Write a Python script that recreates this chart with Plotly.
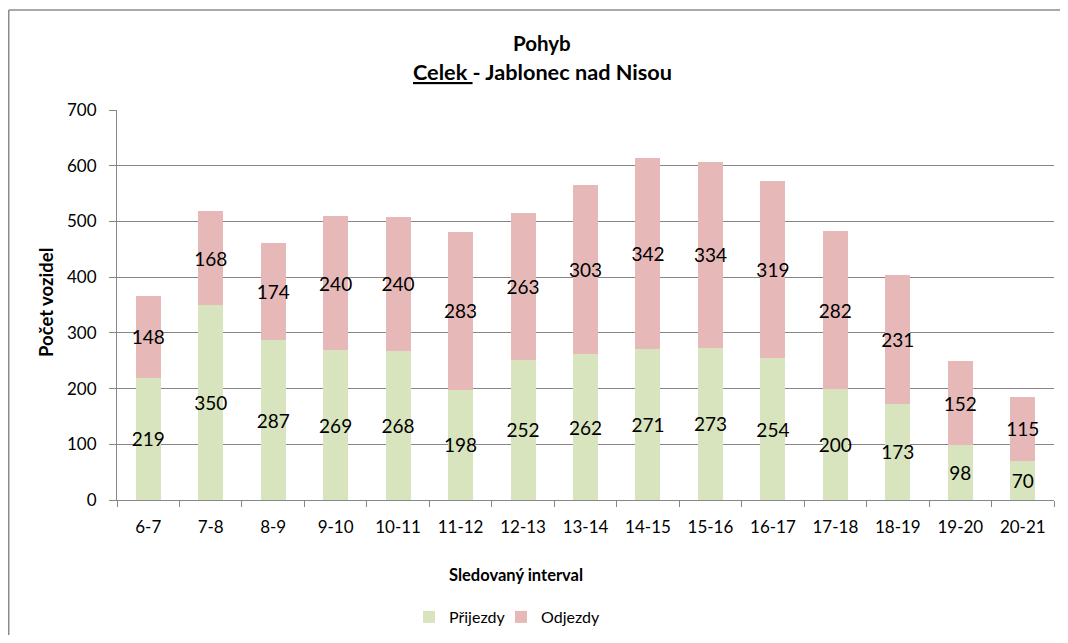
import plotly.graph_objects as go

categories = ["6-7", "7-8", "8-9", "9-10", "10-11", "11-12", "12-13", "13-14",
              "14-15", "15-16", "16-17", "17-18", "18-19", "19-20", "20-21"]
prijezdy = [219, 350, 287, 269, 268, 198, 252, 262, 271, 273, 254, 200, 173, 98, 70]
odjezdy = [148, 168, 174, 240, 240, 283, 263, 303, 342, 334, 319, 282, 231, 152, 115]

FONT = "Lato"
GRID = "#878787"
BORDER = "#8c8c8c"

# page offset (body margin) compensation
OFF = 8
W, H = 1068 - 2 * OFF, 643 - 2 * OFF
PX0, PX1, PY0, PY1 = 117, 1054, 110, 500  # plot area in page pixels
L, R, T, B = PX0 - OFF, W - (PX1 - OFF), PY0 - OFF, H - (PY1 - OFF)
pw = PX1 - PX0
ph = PY1 - PY0


def px_x(x):
    return (x - PX0) / pw


def px_y(y):
    return (PY1 - y) / ph


fig = go.Figure()
for name, vals, col, lg in [("Přijezdy", prijezdy, "#D7E4BD", "legend"),
                            ("Odjezdy", odjezdy, "#E6B9B8", "legend2")]:
    fig.add_trace(go.Bar(
        x=categories, y=vals, name=name, legend=lg, showlegend=True,
        marker=dict(color=col, line=dict(width=0)),
        text=vals, textposition="inside", insidetextanchor="middle",
        constraintext="none", cliponaxis=False,
        textfont=dict(family=FONT, size=19, color="black"), textangle=0,
    ))

leg_common = dict(
    orientation="h", xanchor="left",
    y=px_y(617), yanchor="middle",
    font=dict(family=FONT, size=16),
    itemwidth=30, bgcolor="rgba(0,0,0,0)", visible=True,
)

fig.update_layout(
    width=W, height=H,
    showlegend=True,
    barmode="stack", bargap=0.6,
    plot_bgcolor="white", paper_bgcolor="white",
    margin=dict(l=L, r=R, t=T, b=B, autoexpand=False),
    font=dict(family=FONT, size=17, color="black"),
    uniformtext=dict(minsize=10, mode="show"),
    xaxis=dict(
        type="category",
        showline=True, linecolor=GRID, linewidth=1,
        ticks="outside", tickson="boundaries", tickcolor=GRID, ticklen=6,
        ticklabelstandoff=12,
        showgrid=False,
        tickfont=dict(family=FONT, size=17),
    ),
    yaxis=dict(
        range=[0, 700], dtick=100,
        showline=True, linecolor=GRID, linewidth=1,
        ticks="outside", tickcolor=GRID, ticklen=7,
        ticklabelstandoff=9,
        showgrid=True, gridcolor=GRID, gridwidth=1,
        zeroline=False,
        tickfont=dict(family=FONT, size=17),
    ),
    legend=dict(x=px_x(409), **leg_common),
    legend2=dict(x=px_x(501), **leg_common),
    annotations=[
        dict(text="<b>Pohyb</b>", xref="paper", yref="paper", x=px_x(542), y=px_y(43),
             xanchor="center", yanchor="middle", showarrow=False,
             font=dict(family=FONT, size=20.5)),
        dict(text="<b><u>Celek </u>- Jablonec nad Nisou</b>", xref="paper", yref="paper",
             x=px_x(542), y=px_y(72), xanchor="center", yanchor="middle", showarrow=False,
             font=dict(family=FONT, size=21.7)),
        dict(text="<b>Sledovaný interval</b>", xref="paper", yref="paper",
             x=px_x(516), y=px_y(575), xanchor="center", yanchor="middle", showarrow=False,
             font=dict(family=FONT, size=16.5)),
        dict(text="<b>Počet vozidel</b>", xref="paper", yref="paper",
             x=px_x(46), y=px_y(303), xanchor="center", yanchor="middle", showarrow=False,
             textangle=-90, font=dict(family=FONT, size=18.5)),
    ],
    shapes=[
        dict(type="line", xref="paper", yref="paper",
             x0=px_x(OFF + 0.75), x1=px_x(1068), y0=px_y(10), y1=px_y(10),
             line=dict(color=BORDER, width=1.5), layer="below"),
        dict(type="line", xref="paper", yref="paper",
             x0=px_x(OFF + 0.75), x1=px_x(OFF + 0.75), y0=px_y(10), y1=px_y(643),
             line=dict(color=BORDER, width=1.5), layer="below"),
    ],
)

fig.write_html("out.html")
